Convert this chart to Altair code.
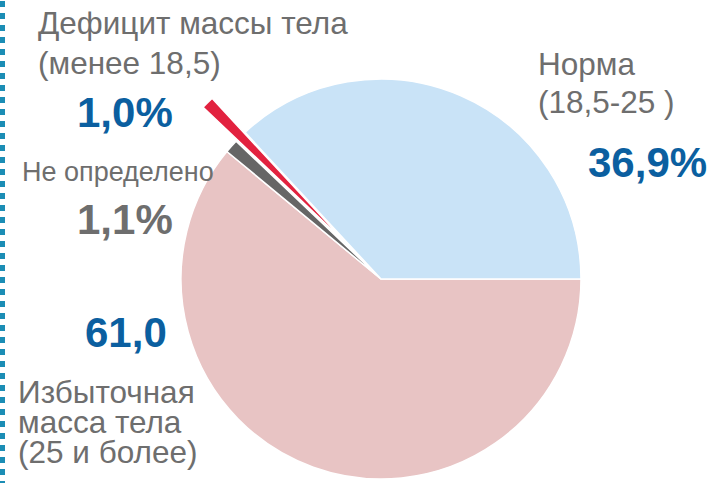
import math
import altair as alt
import pandas as pd

# ---- data ----
categories = ["Избыточная масса тела", "Не определено", "Дефицит массы тела", "Норма"]
values = [61.0, 1.1, 1.0, 36.9]
order = [1, 2, 3, 4]
colors = ["#E8C4C4", "#666666", "#E2223F", "#C9E3F7"]
exploded = [False, False, True, False]

label_lines = {
    "deficit": ["Дефицит массы тела", "(менее 18,5)"],
    "norma": ["Норма", "(18,5-25 )"],
    "undef": ["Не определено"],
    "over": ["Избыточная", "масса тела", "(25 и более)"],
}
pct_text = {"deficit": "1,0%", "norma": "36,9%", "undef": "1,1%", "over": "61,0"}

df = pd.DataFrame({"cat": categories, "value": values, "order": order,
                   "exploded": exploded})

W, H = 718, 483
CX, CY, R = 381, 279, 200
GREY = "#6E6E6E"
BLUE = "#0B5FA0"
FONT = "Liberation Sans"
LBL = 31.5

theta_scale = alt.Scale(domain=[0, 100], range=[math.pi / 2, math.pi / 2 + 2 * math.pi])
color_scale = alt.Scale(domain=categories, range=colors)

base = (
    alt.Chart(df)
    .transform_window(cum="sum(value)", sort=[{"field": "order"}])
    .transform_calculate(start="datum.cum - datum.value")
)

enc = dict(
    theta=alt.Theta("start:Q", scale=theta_scale),
    theta2="cum:Q",
    color=alt.Color("cat:N", scale=color_scale, legend=None),
    x=alt.value(CX),
    y=alt.value(CY),
)

pie = base.transform_filter("!datum.exploded").mark_arc(
    radius=R, stroke="white", strokeWidth=1.5
).encode(**enc)

pie_ex = base.transform_filter("datum.exploded").mark_arc(
    radius=R, stroke="white", strokeWidth=1.5, xOffset=-33, yOffset=-34
).encode(**enc)

layers = [pie, pie_ex]

# left dotted border
layers.append(
    alt.Chart(df).mark_rule(color="#1B8DB5", strokeWidth=5, strokeDash=[6, 6])
    .encode(x=alt.value(2.5), y=alt.value(1), y2=alt.value(H))
)

def txt(s, x, y, size, color, bold=False):
    return alt.Chart(df.head(1)).mark_text(
        align="left", baseline="alphabetic", font=FONT, fontSize=size,
        fontWeight="bold" if bold else "normal", color=color
    ).encode(x=alt.value(x), y=alt.value(y), text=alt.value(s))

# labels
layers.append(txt(label_lines["deficit"][0], 38, 34, LBL, GREY))
layers.append(txt(label_lines["deficit"][1], 38, 74, LBL, GREY))
layers.append(txt(pct_text["deficit"], 77, 127, 42, BLUE, True))

layers.append(txt(label_lines["norma"][0], 538, 75, LBL, GREY))
layers.append(txt(label_lines["norma"][1], 538, 113, LBL, GREY))
layers.append(txt(pct_text["norma"], 588, 177, 42, BLUE, True))

layers.append(txt(label_lines["undef"][0], 22, 181, 27, GREY))
layers.append(txt(pct_text["undef"], 77, 234, 42, GREY, True))

layers.append(txt(pct_text["over"], 85, 347, 42, BLUE, True))
layers.append(txt(label_lines["over"][0], 18, 403, LBL, GREY))
layers.append(txt(label_lines["over"][1], 18, 433, LBL, GREY))
layers.append(txt(label_lines["over"][2], 18, 463, LBL, GREY))

chart = (
    alt.layer(*layers)
    .properties(width=W, height=H, padding=0, autosize="none", background="white")
    .configure_view(strokeWidth=0)
)

chart.save("out.html", embed_options={"renderer": "svg", "actions": False})
